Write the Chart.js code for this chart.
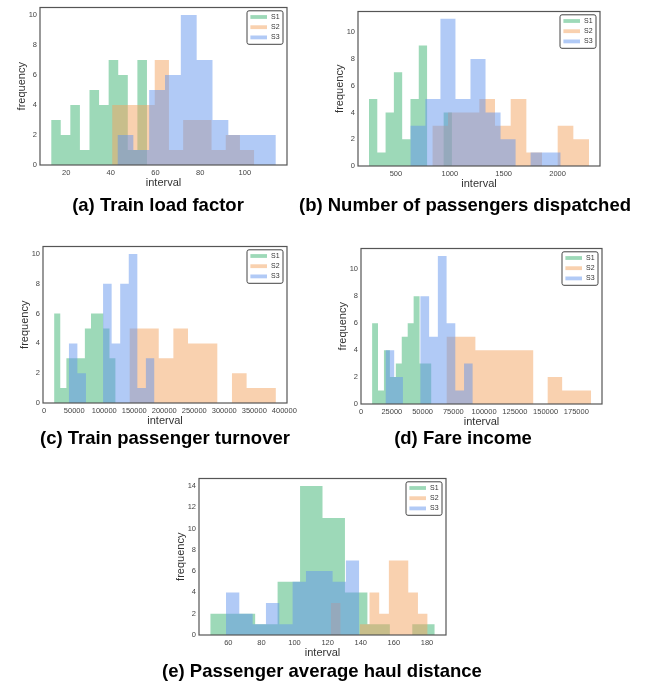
<!DOCTYPE html>
<html>
<head>
<meta charset="utf-8">
<script src="https://cdn.jsdelivr.net/npm/chart.js@4.4.0/dist/chart.umd.min.js"></script>
<style>
  body { margin: 0; background: #fff; }
  #page { position: relative; width: 647px; height: 686px; overflow: hidden; }
  #page canvas { position: absolute; }
  .cap {
    position: absolute;
    font: bold 18.5px "Liberation Sans", Arial, sans-serif;
    color: #000;
    white-space: nowrap;
    transform: translate(-50%, -50%);
  }
</style>
</head>
<body>
<div id="page">
  <canvas id="loadChart" width="300" height="195" style="left:0px;top:0px"></canvas>
  <canvas id="dispatchChart" width="295" height="192" style="left:318px;top:4px"></canvas>
  <canvas id="turnoverChart" width="297" height="194" style="left:3px;top:239px"></canvas>
  <canvas id="fareChart" width="294" height="193" style="left:321px;top:241px"></canvas>
  <canvas id="haulChart" width="300" height="194" style="left:159px;top:471px"></canvas>

  <div class="cap" style="left:158px;top:205px">(a) Train load factor</div>
  <div class="cap" style="left:465px;top:205px">(b) Number of passengers dispatched</div>
  <div class="cap" style="left:165px;top:438px">(c) Train passenger turnover</div>
  <div class="cap" style="left:463px;top:438px">(d) Fare income</div>
  <div class="cap" style="left:322px;top:671px">(e) Passenger average haul distance</div>
</div>

<script>
var seriesNames = ['S1', 'S2', 'S3'];
var seriesColors = ['rgba(60,179,113,0.5)', 'rgba(244,164,96,0.5)', 'rgba(100,149,237,0.5)'];

// counts per bin (10 bins each), and the [first edge, last edge] of each series
// (a) Train load factor
var loadS1 = [3, 2, 4, 1, 5, 4, 7, 6, 1, 7];
var loadS2 = [4, 4, 4, 7, 1, 3, 3, 1, 2, 1];
var loadS3 = [2, 1, 5, 6, 10, 7, 3, 2, 2, 2];
var loadRanges = [[13.3, 56.2], [40.6, 104.2], [43.0, 113.9]];
var loadXLim = [8.3, 118.9];
var loadXTicks = [20, 40, 60, 80, 100];
var loadYTicks = [0, 2, 4, 6, 8, 10];

// (b) Number of passengers dispatched
var dispatchS1 = [5, 1, 4, 7, 2, 5, 9, 0, 0, 4];
var dispatchS2 = [3, 4, 4, 5, 3, 5, 1, 0, 3, 2];
var dispatchS3 = [3, 5, 11, 5, 8, 4, 2, 0, 1, 1];
var dispatchRanges = [[250, 1020], [838, 2292], [634, 2029]];
var dispatchXLim = [148, 2394];
var dispatchXTicks = [500, 1000, 1500, 2000];
var dispatchYTicks = [0, 2, 4, 6, 8, 10];

// (c) Train passenger turnover
var turnoverS1 = [6, 1, 3, 3, 3, 5, 6, 6, 5, 3];
var turnoverS2 = [5, 5, 3, 5, 4, 4, 0, 2, 1, 1];
var turnoverS3 = [4, 2, 0, 0, 8, 4, 8, 10, 1, 3];
var turnoverRanges = [[16500, 119000], [142000, 386000], [41000, 183700]];
var turnoverXLim = [-2000, 404500];
var turnoverXTicks = [0, 50000, 100000, 150000, 200000, 250000, 300000, 350000, 400000];
var turnoverYTicks = [0, 2, 4, 6, 8, 10];

// (d) Fare income
var fareS1 = [6, 1, 4, 2, 3, 5, 6, 8, 3, 3];
var fareS2 = [5, 5, 4, 4, 4, 4, 0, 2, 1, 1];
var fareS3 = [4, 2, 0, 0, 8, 5, 11, 6, 1, 3];
var fareRanges = [[8900, 57200], [69400, 187000], [19800, 90800]];
var fareXLim = [-100, 195900];
var fareXTicks = [0, 25000, 50000, 75000, 100000, 125000, 150000, 175000];
var fareYTicks = [0, 2, 4, 6, 8, 10];

// (e) Passenger average haul distance
var haulS1 = [2, 2, 1, 5, 14, 11, 4, 1, 0, 1];
var haulS2 = [3, 0, 0, 1, 4, 2, 7, 7, 4, 2];
var haulS3 = [4, 2, 1, 3, 1, 5, 6, 6, 5, 7];
var haulRanges = [[49.1, 184.7], [121.9, 180.4], [58.6, 139.1]];
var haulXLim = [42.3, 191.5];
var haulXTicks = [60, 80, 100, 120, 140, 160, 180];
var haulYTicks = [0, 2, 4, 6, 8, 10, 12, 14];

var font = '"Liberation Sans", Arial, sans-serif';

// step outline of a histogram: one point per left bin edge, closed at the last edge
function histPoints(counts, range) {
  var pts = [];
  var w = (range[1] - range[0]) / counts.length;
  for (var i = 0; i < counts.length; i++) {
    pts.push({x: range[0] + i * w, y: counts[i]});
  }
  pts.push({x: range[1], y: 0});
  return pts;
}

// axes frame and the boxed legend in the upper right corner
var frameLegend = {
  id: 'frameLegend',
  afterDatasetsDraw: function(chart) {
    var ctx = chart.ctx;
    var a = chart.chartArea;
    ctx.save();
    ctx.strokeStyle = '#555';
    ctx.lineWidth = 1.2;
    ctx.strokeRect(a.left, a.top, a.right - a.left, a.bottom - a.top);

    var w = 36, h = 33.5;
    var lx = a.right - 4 - w, ly = a.top + 3.3;
    ctx.beginPath();
    if (ctx.roundRect) ctx.roundRect(lx, ly, w, h, 2);
    else ctx.rect(lx, ly, w, h);
    ctx.fillStyle = 'rgba(255,255,255,0.8)';
    ctx.fill();
    ctx.strokeStyle = '#444';
    ctx.lineWidth = 1;
    ctx.stroke();

    ctx.font = '7px ' + font;
    ctx.textBaseline = 'middle';
    chart.data.datasets.forEach(function(ds, i) {
      var cy = ly + 6.2 + i * 10.2;
      ctx.fillStyle = ds.backgroundColor;
      ctx.fillRect(lx + 3.4, cy - 1.9, 16.6, 3.8);
      ctx.fillStyle = '#333';
      ctx.fillText(ds.label, lx + 24, cy);
    });
    ctx.restore();
  }
};

function makeHist(id, series, ranges, xLim, yMax, xTicks, yTicks) {
  var datasets = series.map(function(counts, i) {
    return {
      label: seriesNames[i],
      data: histPoints(counts, ranges[i]),
      stepped: true,
      fill: 'origin',
      backgroundColor: seriesColors[i],
      borderColor: 'rgba(0,0,0,0)',
      borderWidth: 0,
      pointRadius: 0,
      pointHoverRadius: 0,
      order: 3 - i
    };
  });

  var tickFont = {family: font, size: 7.5};
  var titleFont = {family: font, size: 11};

  return new Chart(document.getElementById(id), {
    type: 'line',
    data: {datasets: datasets},
    options: {
      responsive: false,
      animation: false,
      events: [],
      layout: {padding: {left: 0, top: 5, right: 13, bottom: 0}},
      plugins: {
        legend: {display: false},
        tooltip: {enabled: false}
      },
      scales: {
        x: {
          type: 'linear',
          min: xLim[0],
          max: xLim[1],
          grid: {display: false, drawTicks: false},
          border: {display: false},
          afterBuildTicks: function(scale) {
            scale.ticks = xTicks.map(function(v) { return {value: v}; });
          },
          ticks: {
            autoSkip: false,
            maxRotation: 0,
            minRotation: 0,
            padding: 3,
            color: '#444',
            font: tickFont,
            callback: function(v) { return String(v); }
          },
          title: {display: true, text: 'interval', color: '#333', font: titleFont, padding: {top: 0, bottom: 5.9}},
          afterFit: function(scale) { scale.height = 30; }
        },
        y: {
          min: 0,
          max: yMax,
          grid: {display: false, drawTicks: false},
          border: {display: false},
          afterBuildTicks: function(scale) {
            scale.ticks = yTicks.map(function(v) { return {value: v}; });
          },
          ticks: {
            autoSkip: false,
            padding: 3,
            color: '#444',
            font: tickFont,
            callback: function(v) { return String(v); }
          },
          title: {display: true, text: 'frequency', color: '#333', font: titleFont, padding: {top: 14.9, bottom: 0}},
          afterFit: function(scale) { scale.width = 40; }
        }
      }
    },
    plugins: [frameLegend]
  });
}

makeHist('loadChart', [loadS1, loadS2, loadS3], loadRanges, loadXLim, 10.5, loadXTicks, loadYTicks);
makeHist('dispatchChart', [dispatchS1, dispatchS2, dispatchS3], dispatchRanges, dispatchXLim, 11.55, dispatchXTicks, dispatchYTicks);
makeHist('turnoverChart', [turnoverS1, turnoverS2, turnoverS3], turnoverRanges, turnoverXLim, 10.5, turnoverXTicks, turnoverYTicks);
makeHist('fareChart', [fareS1, fareS2, fareS3], fareRanges, fareXLim, 11.55, fareXTicks, fareYTicks);
makeHist('haulChart', [haulS1, haulS2, haulS3], haulRanges, haulXLim, 14.7, haulXTicks, haulYTicks);
</script>
</body>
</html>
